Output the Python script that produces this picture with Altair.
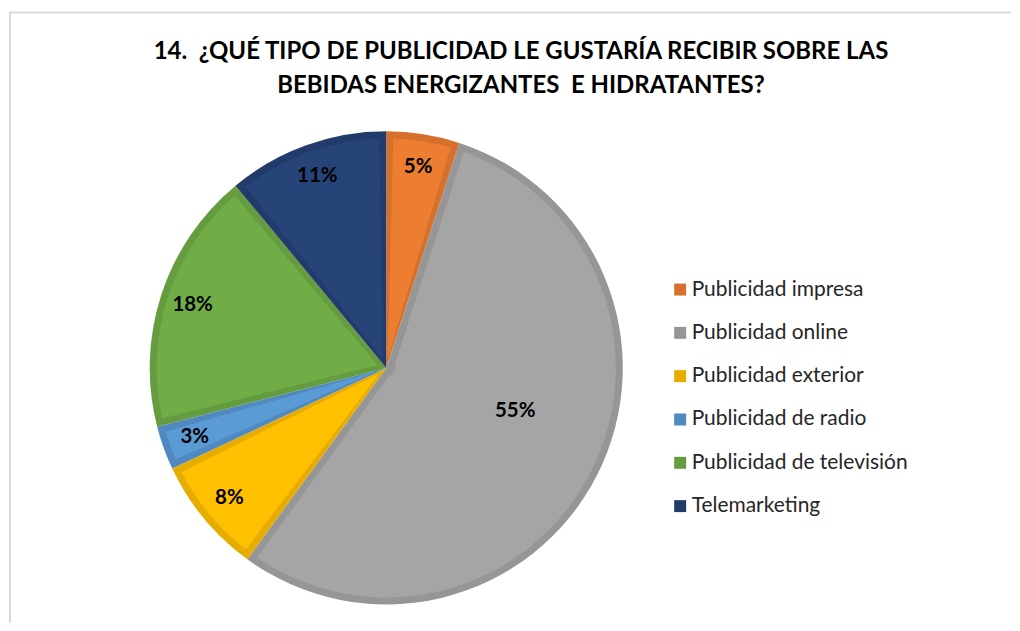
import math
import altair as alt
import pandas as pd

categories = [
    "Publicidad impresa",
    "Publicidad online",
    "Publicidad exterior",
    "Publicidad de radio",
    "Publicidad de televisión",
    "Telemarketing",
]
values = [5, 55, 8, 3, 18, 11]
labels = ["5%", "55%", "8%", "3%", "18%", "11%"]
fill_colors = ["#ED7D31", "#A5A5A5", "#FFC000", "#5B9BD5", "#70AD47", "#264478"]
edge_colors = ["#D5712C", "#969696", "#E6AD00", "#5089C2", "#659C40", "#213C6B"]
title_lines = [
    "14.\u00a0 ¿QUÉ TIPO DE PUBLICIDAD LE GUSTARÍA RECIBIR SOBRE LAS",
    "BEBIDAS ENERGIZANTES\u00a0 E HIDRATANTES?",
]

df = pd.DataFrame({
    "category": categories,
    "value": values,
    "label": labels,
    "idx": list(range(len(categories))),
})

W, H = 1004, 615
CX, CY = 378, 360
R = 237
BAND = 7
R0 = 9
PAD = 2 * math.asin(BAND / math.sqrt((R - BAND) ** 2 + R0 ** 2))

base = alt.Chart(df).encode(
    theta=alt.Theta("value:Q", stack=True),
    order=alt.Order("idx:Q"),
    x=alt.value(CX),
    y=alt.value(CY),
)

outer = base.mark_arc(radius=R).encode(
    color=alt.Color(
        "category:N",
        scale=alt.Scale(domain=categories, range=edge_colors),
        sort=categories,
        legend=alt.Legend(
            title=None,
            orient="none",
            legendX=662,
            legendY=271,
            symbolType="square",
            symbolSize=144,
            symbolStrokeWidth=0,
            labelFont="Lato",
            labelFontSize=21,
            labelColor="#262626",
            labelLimit=0,
            rowPadding=21.4,
            labelOffset=1,
            padding=0,
        ),
    )
)

inner = base.mark_arc(radius=R - BAND, radius2=R0, padAngle=PAD).encode(
    fill=alt.Fill(
        "category:N",
        scale=alt.Scale(domain=categories, range=fill_colors),
        legend=None,
    )
)

text_small = base.transform_calculate(
    t="datum.value > 50 ? '' : datum.label"
).mark_text(
    radius=204, font="Lato", fontWeight="bold", fontSize=20.5, color="#000000",
    align="center", baseline="middle",
).encode(text="t:N")

text_big = base.transform_calculate(
    t="datum.value > 50 ? datum.label : ''"
).mark_text(
    radius=136, dx=8, dy=-19, font="Lato", fontWeight="bold", fontSize=20.5,
    color="#000000", align="center", baseline="middle",
).encode(text="t:N")

title = alt.Chart(pd.DataFrame({"t": ["\n".join(title_lines)]})).mark_text(
    font="Lato", fontWeight="bold", fontSize=24, color="#000000",
    align="center", baseline="alphabetic", lineBreak="\n", lineHeight=35,
).encode(text="t:N", x=alt.value(513), y=alt.value(50))

frame_data = alt.Data(values=[{"a": 1}])
frame_top = alt.Chart(frame_data).mark_rule(color="#D9D9D9", strokeWidth=2).encode(
    x=alt.value(0), x2=alt.value(W), y=alt.value(4)
)
frame_left = alt.Chart(frame_data).mark_rule(color="#D9D9D9", strokeWidth=2).encode(
    x=alt.value(1), y=alt.value(4), y2=alt.value(H)
)

chart = alt.layer(
    frame_top, frame_left, outer, inner, text_small, text_big, title
).properties(
    width=W, height=H, padding=0, background="white"
).configure_view(stroke=None)

chart.save("out.html", embed_options={"renderer": "svg", "actions": False})
